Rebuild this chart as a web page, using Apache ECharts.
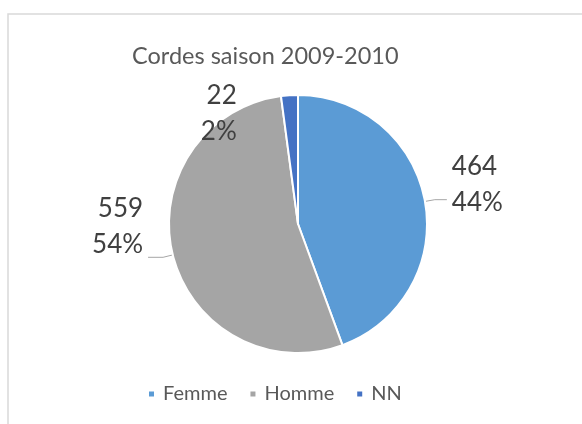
<!DOCTYPE html>
<html>
<head>
<meta charset="utf-8">
<script src="https://cdn.jsdelivr.net/npm/echarts@6/dist/echarts.min.js"></script>
<style>
  html, body { margin: 0; padding: 0; background: #fff; }
  #cordes_pie { width: 582px; height: 424px; }
</style>
</head>
<body>
<div id="cordes_pie"></div>
<script>
// données
var categories = ['Femme', 'Homme', 'NN']
var effectifs = [464, 559, 22]
var couleurs = ['#5b9bd5', '#a5a5a5', '#4472c4']

// réglages des étiquettes par part (décalage de la ligne de rappel)
var labelShift = [30, 61, 1]
var lineLength = [10, 10, -19]
var lineLength2 = [12, 15, 49]
var lineShow = [true, true, false]

var chart = echarts.init(document.getElementById('cordes_pie'))

var data = categories.map(function(name, i) {
  return {
    name: name,
    value: effectifs[i],
    itemStyle: { color: couleurs[i] },
    labelLine: {
      show: lineShow[i],
      length: lineLength[i],
      length2: lineLength2[i]
    }
  }
})

// ligne vide en bas de l'étiquette pour remonter le texte au-dessus du trait
var rich = {}
labelShift.forEach(function(h, i) {
  rich['s' + i] = { lineHeight: h, fontSize: 1 }
})

chart.setOption({
  animation: false,
  graphic: [
    {
      type: 'rect',
      shape: { x: 8, y: 14, width: 620, height: 460 },
      style: { fill: 'none', stroke: '#d9d9d9', lineWidth: 1.5 },
      silent: true
    }
  ],
  title: {
    text: 'Cordes saison 2009-2010',
    left: 132,
    top: 44,
    padding: 0,
    textStyle: {
      fontFamily: 'Lato',
      fontSize: 23.5,
      fontWeight: 'normal',
      color: '#595959'
    }
  },
  legend: {
    data: categories,
    left: 142,
    top: 379,
    icon: 'rect',
    itemWidth: 7,
    itemHeight: 7,
    itemGap: 21,
    selectedMode: false,
    textStyle: {
      fontFamily: 'Lato',
      fontSize: 20,
      color: '#595959',
      padding: [0, 0, 0, 3]
    }
  },
  series: [
    {
      type: 'pie',
      center: [298, 224],
      radius: 129,
      startAngle: 90,
      clockwise: true,
      avoidLabelOverlap: false,
      percentPrecision: 0,
      itemStyle: { borderColor: '#ffffff', borderWidth: 2 },
      emphasis: { disabled: true },
      label: {
        position: 'outside',
        formatter: function(p) {
          return p.value + '\n' + p.percent + '%\n{s' + p.dataIndex + '| }'
        },
        fontFamily: 'Lato',
        fontSize: 26,
        lineHeight: 36,
        color: '#404040',
        distanceToLabelLine: 5,
        rich: rich
      },
      labelLine: {
        smooth: false,
        lineStyle: { color: '#a6a6a6', width: 1 }
      },
      data: data
    }
  ]
})
</script>
</body>
</html>
